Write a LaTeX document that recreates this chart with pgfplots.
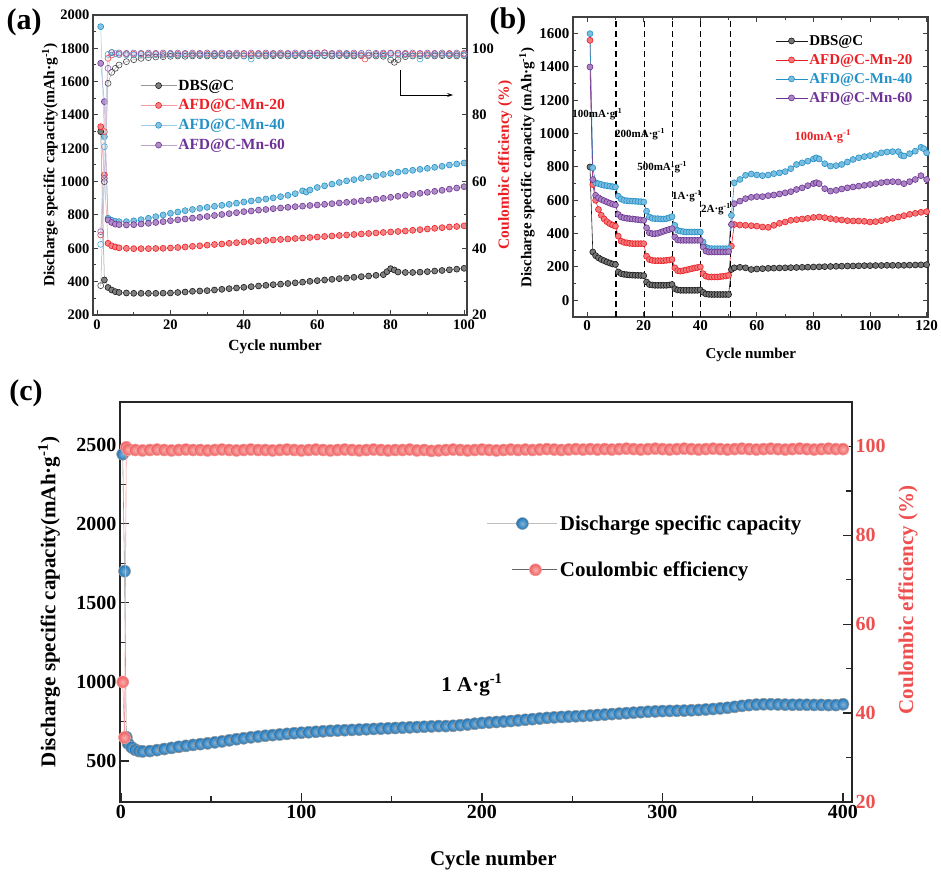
\documentclass[border=0pt]{standalone}
\usepackage{pgfplots}
\pgfplotsset{compat=1.18}
\usepackage{fontspec}
\setmainfont{Liberation Serif}
\usetikzlibrary{arrows.meta}
\definecolor{cblack}{RGB}{25,25,25}
\definecolor{cred}{RGB}{235,30,35}
\definecolor{cblue}{RGB}{35,145,200}
\definecolor{cpurple}{RGB}{110,50,150}
\definecolor{cbluec}{RGB}{30,118,185}
\definecolor{credc}{RGB}{240,95,95}
\definecolor{axred}{RGB}{238,80,80}
\newcommand{\fs}[1]{\fontsize{#1}{#1}\selectfont\bfseries}
\pgfdeclareplotmark{ballblue}{\shade[inner color=cbluec!55!white, outer color=cbluec] (0pt,0pt) circle (\pgfplotmarksize);}
\pgfdeclareplotmark{ballred}{\shade[inner color=credc!50!white, outer color=credc] (0pt,0pt) circle (\pgfplotmarksize);}
\pgfplotsset{
  common/.style={scale only axis, anchor=south west, tick align=inside,
    /pgf/number format/assume math mode=true, /pgf/number format/1000 sep={},
    scaled ticks=false},
  capa/.style={color=#1!45, line width=0.5pt, mark=*, mark size=3pt,
    mark options={draw=#1, fill=#1!55, line width=0.6pt}},
  cea/.style={color=#1!35, line width=0.5pt, mark=o, mark size=3pt,
    mark options={draw=#1!80, fill=white, line width=0.6pt}},
  capb/.style={color=#1, line width=0.6pt, mark=*, mark size=3pt,
    mark options={draw=#1, fill=#1!60, line width=0.6pt}},
  legC1/.style={legend image code/.code={\draw[black!25, line width=1pt] (0pt,0pt) -- (70pt,0pt); \draw[##1] plot coordinates {(35pt,0pt)};}},
  legC2/.style={legend image code/.code={\path (0pt,0pt); \draw[black!60, line width=1pt] (25pt,0pt) -- (70pt,0pt); \draw[##1] plot coordinates {(48pt,0pt)};}},
}
\begin{document}
\begin{tikzpicture}
\path[use as bounding box] (0,0) rectangle (941pt,877pt);

% ---------------- panel (a) ----------------
\begin{axis}[common, at={(93pt,562pt)}, width=374pt, height=300pt,
  xmin=-1.1, xmax=100.8, ymin=200, ymax=2000,
  xtick={0,20,...,100}, minor x tick num=1,
  ytick={200,400,...,2000}, minor y tick num=1,
  ytick pos=left, xtick pos=bottom,
  axis line style={line width=1.2pt, draw=black!75},
  major tick length=5pt, minor tick length=3pt,
  every tick/.style={line width=1pt, black!75},
  tick label style={font=\fs{14.5}},
  xticklabel style={yshift=-1.5pt},
  label style={font=\fs{15.5}},
  xlabel={Cycle number},
  ylabel={Discharge specific capacity(mAh·g\textsuperscript{-1})},
  xlabel style={at={(axis description cs:0.487,-0.107)}, anchor=center},
  ylabel style={at={(axis description cs:-0.115,0.5)}, anchor=center},
  legend style={draw=none, fill=none, at={(axis description cs:0.126,0.79)},
    anchor=north west, font=\fs{15.5}, row sep=5pt, inner sep=0pt, nodes={inner sep=1.5pt}},
  legend cell align=left,
  legend image code/.code={\draw[mark repeat=2,mark phase=2,#1] plot coordinates {(0pt,0pt) (18pt,0pt) (36pt,0pt)};},
]
\addplot[capa=cblack] coordinates {(1,1300)(2,410)(3,365)(4,350)(5,340)(6,335)(8,332)(10,330)(12,330)(14,330)(16,330)(18,331)(20,332)(22,335)(24,338)(26,342)(28,344)(30,346)(32,350)(34,354)(36,358)(38,362)(40,366)(42,370)(44,374)(46,378)(48,382)(50,385)(52,389)(54,393)(56,397)(58,402)(60,406)(62,410)(64,414)(66,418)(68,422)(70,426)(72,430)(74,434)(76,438)(78,442)(79,460)(80,478)(81,470)(82,458)(84,455)(86,455)(88,457)(90,460)(92,464)(94,467)(96,471)(98,475)(100,480)};
\addlegendentry{DBS@C}
\addplot[capa=cred] coordinates {(1,1330)(2,1040)(3,630)(4,615)(5,608)(6,603)(8,600)(10,598)(12,598)(14,598)(16,599)(18,600)(20,602)(22,605)(24,608)(26,612)(28,615)(30,619)(32,623)(34,626)(36,630)(38,634)(40,638)(42,641)(44,644)(46,647)(48,650)(50,653)(52,656)(54,659)(56,662)(58,665)(60,668)(62,671)(64,674)(66,677)(68,680)(70,683)(72,686)(74,689)(76,692)(78,695)(80,698)(82,701)(84,704)(86,708)(88,712)(90,716)(92,720)(94,724)(96,728)(98,731)(100,735)};
\addlegendentry{\textcolor{cred}{AFD@C-Mn-20}}
\addplot[capa=cblue] coordinates {(1,1930)(2,1270)(3,780)(4,768)(5,762)(6,760)(8,760)(10,765)(12,772)(14,780)(16,790)(18,800)(20,810)(22,818)(24,826)(26,833)(28,840)(30,846)(32,852)(34,858)(36,864)(38,871)(40,878)(42,884)(44,890)(46,896)(48,903)(50,910)(52,918)(54,928)(56,945)(57,938)(58,950)(60,965)(62,975)(64,985)(66,995)(68,1005)(70,1012)(72,1020)(74,1028)(76,1035)(78,1043)(80,1050)(82,1057)(84,1063)(86,1068)(88,1074)(90,1080)(92,1086)(94,1092)(96,1100)(98,1106)(100,1112)};
\addlegendentry{\textcolor{cblue}{AFD@C-Mn-40}}
\addplot[capa=cpurple] coordinates {(1,1710)(2,1480)(3,770)(4,755)(5,745)(6,742)(8,740)(10,742)(12,746)(14,750)(16,755)(18,760)(20,766)(22,771)(24,776)(26,781)(28,786)(30,791)(32,797)(34,803)(36,808)(38,814)(40,820)(42,824)(44,829)(46,833)(48,838)(50,842)(52,846)(54,850)(56,853)(58,857)(60,860)(62,864)(64,868)(66,872)(68,876)(70,880)(72,885)(74,890)(76,895)(78,900)(80,906)(82,912)(84,918)(86,924)(88,930)(90,936)(92,942)(94,948)(96,955)(98,962)(100,970)};
\addlegendentry{\textcolor{cpurple}{AFD@C-Mn-60}}
\draw[line width=0.9pt, -{Stealth[length=6pt,width=4pt]}] (axis cs:82.6,1670) -- (axis cs:82.6,1520) -- (axis cs:97,1520);
\end{axis}

\begin{axis}[common, at={(93pt,562pt)}, width=374pt, height=300pt,
  xmin=-1.1, xmax=100.8, ymin=20, ymax=110,
  axis x line=none, axis y line*=right,
  ytick={20,40,...,100}, minor y tick num=1,
  axis line style={line width=1.2pt, draw=black!75},
  major tick length=5pt, minor tick length=3pt,
  every tick/.style={line width=1pt, black!75},
  tick label style={font=\fs{14.5}},
  yticklabel style={xshift=1.5pt},
  ylabel={Coulombic efficiency (\%)},
  ylabel style={font=\fs{15.5}, color=cred, at={(axis description cs:1.102,0.5)}, anchor=center},
]
\addplot[cea=cblack] coordinates {(1,28.8)(2,60)(3,89.5)(4,92.8)(5,94)(6,95)(8,96)(10,96.6)(12,97)(14,97.2)(16,97.4)(18,97.5)(20,97.6)(22,97.7)(24,97.6)(26,97.7)(28,97.8)(30,97.7)(32,97.7)(34,97.8)(36,97.7)(38,97.8)(40,97.7)(42,97.8)(44,97.8)(46,97.7)(48,97.8)(50,97.8)(52,97.7)(54,97.8)(56,97.8)(58,97.7)(60,97.8)(62,97.8)(64,97.7)(66,97.8)(68,97.8)(70,97.7)(72,97.8)(74,97.8)(76,97.7)(78,97.6)(80,96.5)(81,95.8)(82,96.6)(84,97.5)(86,97.7)(88,97.8)(90,97.8)(92,97.7)(94,97.8)(96,97.8)(98,97.7)(100,97.8)};
\addplot[cea=cred] coordinates {(1,44)(2,75)(3,97)(4,98)(6,98.2)(8,98.3)(10,98.2)(12,98.3)(14,98.2)(16,98.3)(18,98.2)(20,98.3)(22,98.2)(24,98.3)(26,98.2)(28,98.3)(30,98.2)(32,98.3)(34,98.2)(36,98.3)(38,98.2)(40,98.3)(42,98.2)(44,98.3)(46,98.2)(48,98.3)(50,98.2)(52,98.3)(54,98.2)(56,98.3)(58,98.4)(60,98.6)(62,98.7)(64,98.3)(66,98.2)(68,98.3)(70,98.2)(72,97.8)(73,96.8)(74,97.9)(76,98.2)(78,98.3)(80,98.6)(82,98.4)(84,98.3)(86,98.2)(88,98.3)(90,98.2)(92,98.3)(94,98.2)(96,98.3)(98,98.2)(100,98.3)};
\addplot[cea=cblue] coordinates {(1,41.2)(2,70.5)(3,98.2)(4,98.8)(5,98.4)(6,98.1)(8,98)(10,98)(12,98.1)(14,98)(16,98.1)(18,98)(20,98.1)(22,98)(24,98.1)(26,98)(28,98.1)(30,98)(32,98.1)(34,98)(36,98.1)(38,98)(40,97.8)(42,96.8)(44,97.9)(46,98)(48,98.1)(50,98)(52,98.1)(54,98)(56,98.1)(58,98)(60,98.1)(62,98)(64,98.1)(66,98)(68,98.1)(70,98)(72,98.1)(74,98)(76,98.1)(78,98)(80,98.1)(82,98)(84,98.1)(86,97.8)(88,96.8)(90,97.9)(92,98)(94,98.1)(96,98)(98,98.1)(100,98)};
\addplot[cea=cpurple] coordinates {(1,45)(2,61)(3,94)(4,98.7)(6,98.6)(8,98.5)(10,98.6)(12,98.5)(14,98.6)(16,98.5)(18,98.6)(20,98.5)(22,98.6)(24,98.5)(26,98.6)(28,98.5)(30,98.6)(32,98.5)(34,98.6)(36,98.5)(38,98.6)(40,98.5)(42,98.6)(44,98.5)(46,98.6)(48,98.5)(50,98.6)(52,98.5)(54,98.6)(56,98.5)(58,98.6)(60,98.5)(62,98.6)(64,98.5)(66,98.6)(68,98.5)(70,98.6)(72,98.5)(74,98.6)(76,98.5)(78,98.6)(80,98.5)(82,98.6)(84,98.5)(86,98.6)(88,98.5)(90,98.6)(92,98.5)(94,98.6)(96,98.5)(98,98.6)(100,98.5)};
\end{axis}

% ---------------- panel (b) ----------------
\begin{axis}[common, at={(573pt,560pt)}, width=355pt, height=300pt,
  xmin=-5, xmax=120.5, ymin=-100, ymax=1700,
  xtick={0,20,...,120}, minor x tick num=1,
  ytick={0,200,...,1600}, minor y tick num=1,
  axis line style={line width=1.2pt, draw=black!75},
  major tick length=5pt, minor tick length=3pt,
  every tick/.style={line width=1pt, black!75},
  tick label style={font=\fs{15}},
  label style={font=\fs{15}},
  xlabel={Cycle number},
  ylabel={Discharge specific capacity (mAh·g\textsuperscript{-1})},
  xlabel style={at={(axis description cs:0.501,-0.127)}, anchor=center},
  ylabel style={at={(axis description cs:-0.13,0.498)}, anchor=center},
  legend style={draw=none, fill=none, at={(axis description cs:0.569,0.945)},
    anchor=north west, font=\fs{15}, row sep=4.5pt, inner sep=0pt, nodes={inner sep=1.5pt}},
  legend cell align=left,
  legend image code/.code={\draw[mark repeat=2,mark phase=2,#1] plot coordinates {(0pt,0pt) (16pt,0pt) (32pt,0pt)};},
]
\addplot[capb=cblack] coordinates {(1,800)(2,290)(3,268)(4,255)(5,245)(6,238)(7,230)(8,224)(9,218)(10,215)(11,170)(12,160)(13,156)(14,154)(15,152)(16,151)(17,150)(18,150)(19,149)(20,148)(21,110)(22,95)(23,92)(24,90)(25,90)(26,90)(27,90)(28,90)(29,92)(30,95)(31,70)(32,62)(33,60)(34,60)(35,60)(36,60)(37,60)(38,60)(39,60)(40,62)(41,48)(42,38)(43,36)(44,35)(45,35)(46,35)(47,35)(48,35)(49,35)(50,35)(51,185)(52,195)(54,198)(56,195)(58,185)(60,188)(62,190)(64,192)(66,193)(68,194)(70,195)(72,196)(74,197)(76,198)(78,199)(80,200)(82,201)(84,202)(86,203)(88,204)(90,205)(92,206)(94,206)(96,207)(98,208)(100,208)(102,209)(104,209)(106,210)(108,210)(110,210)(112,210)(114,211)(116,212)(118,213)(120,214)};
\addlegendentry{DBS@C}
\addplot[capb=cred] coordinates {(1,1560)(2,694)(3,600)(4,545)(5,510)(6,488)(7,472)(8,460)(9,452)(10,445)(11,385)(12,355)(13,348)(14,345)(15,342)(16,340)(17,340)(18,340)(19,340)(20,340)(21,265)(22,245)(23,240)(24,238)(25,238)(26,238)(27,238)(28,240)(29,242)(30,245)(31,195)(32,178)(33,175)(34,178)(35,182)(36,186)(37,190)(38,194)(39,197)(40,200)(41,160)(42,145)(43,140)(44,140)(45,140)(46,140)(47,142)(48,144)(49,146)(50,150)(51,325)(52,455)(54,452)(56,450)(58,448)(60,445)(62,440)(64,438)(66,450)(68,462)(70,470)(72,480)(74,484)(76,488)(78,492)(80,497)(82,500)(84,496)(86,490)(88,485)(90,482)(92,478)(94,476)(96,476)(98,474)(100,470)(102,472)(104,478)(106,485)(108,492)(110,500)(112,508)(114,516)(116,522)(118,528)(120,532)};
\addlegendentry{\textcolor{cred}{AFD@C-Mn-20}}
\addplot[capb=cblue] coordinates {(1,1600)(2,795)(3,705)(4,700)(5,695)(6,690)(7,688)(8,685)(9,682)(10,680)(11,625)(12,608)(13,600)(14,598)(15,596)(16,595)(17,594)(18,593)(19,592)(20,590)(21,535)(22,500)(23,492)(24,490)(25,490)(26,488)(27,488)(28,490)(29,495)(30,502)(31,450)(32,420)(33,415)(34,412)(35,410)(36,410)(37,410)(38,410)(39,410)(40,410)(41,350)(42,318)(43,312)(44,310)(45,310)(46,310)(47,310)(48,310)(49,310)(50,310)(51,510)(52,705)(54,725)(56,750)(58,758)(60,752)(62,748)(64,752)(66,760)(68,765)(70,772)(72,790)(74,815)(76,825)(78,835)(80,848)(81,855)(82,848)(84,820)(86,805)(88,808)(90,815)(92,830)(94,845)(96,855)(98,862)(100,868)(102,875)(104,885)(106,890)(108,892)(110,892)(111,870)(112,866)(114,880)(116,895)(118,918)(119,910)(120,885)};
\addlegendentry{\textcolor{cblue}{AFD@C-Mn-40}}
\addplot[capb=cpurple] coordinates {(1,1400)(2,725)(3,630)(4,615)(5,605)(6,598)(7,590)(8,583)(9,577)(10,572)(11,515)(12,500)(13,495)(14,492)(15,490)(16,488)(17,486)(18,484)(19,482)(20,480)(21,435)(22,405)(23,400)(24,400)(25,402)(26,408)(27,414)(28,420)(29,425)(30,430)(31,380)(32,362)(33,360)(34,360)(35,360)(36,360)(37,360)(38,360)(39,360)(40,360)(41,320)(42,295)(43,290)(44,290)(45,290)(46,290)(47,290)(48,290)(49,290)(50,292)(51,455)(52,580)(54,595)(56,610)(58,618)(60,622)(62,622)(64,628)(66,632)(68,638)(70,645)(72,652)(74,665)(76,675)(78,688)(80,700)(81,706)(82,700)(84,670)(86,655)(88,660)(90,668)(92,675)(94,680)(96,685)(98,690)(100,695)(102,700)(104,706)(106,710)(108,712)(110,710)(112,700)(114,712)(116,725)(118,748)(120,725)};
\addlegendentry{\textcolor{cpurple}{AFD@C-Mn-60}}
\draw[line width=1.1pt, dash pattern=on 6pt off 4pt] (axis cs:10.2,-100) -- (axis cs:10.2,1700);
\draw[line width=1.1pt, dash pattern=on 6pt off 4pt] (axis cs:20.2,-100) -- (axis cs:20.2,1700);
\draw[line width=1.1pt, dash pattern=on 6pt off 4pt] (axis cs:30.1,-100) -- (axis cs:30.1,1700);
\draw[line width=1.1pt, dash pattern=on 6pt off 4pt] (axis cs:40.1,-100) -- (axis cs:40.1,1700);
\draw[line width=1.1pt, dash pattern=on 6pt off 4pt] (axis cs:50.7,-100) -- (axis cs:50.7,1700);
\node[font=\fs{11}] at (axis cs:3.6,1115) {100mA·g\textsuperscript{-1}};
\node[font=\fs{11}] at (axis cs:18.7,994) {200mA·g\textsuperscript{-1}};
\node[font=\fs{11}] at (axis cs:26.5,796) {500mA·g\textsuperscript{-1}};
\node[font=\fs{11}] at (axis cs:35.3,622) {1A·g\textsuperscript{-1}};
\node[font=\fs{11}] at (axis cs:45.5,544) {2A·g\textsuperscript{-1}};
\node[font=\fs{12.5}, text=cred] at (axis cs:83.3,982) {100mA·g\textsuperscript{-1}};
\end{axis}

% ---------------- panel (c) ----------------
\begin{axis}[common, at={(120pt,75pt)}, width=732pt, height=400pt,
  xmin=-0.5, xmax=405, ymin=240, ymax=2770,
  xtick={0,100,...,400}, minor x tick num=1,
  ytick={500,1000,...,2500}, minor y tick num=1,
  ytick pos=left, xtick pos=bottom,
  axis line style={line width=1.6pt, draw=black!85},
  major tick length=9pt, minor tick length=6pt,
  every tick/.style={line width=1.4pt, black!85},
  tick label style={font=\fs{20}},
  label style={font=\fs{21}},
  xlabel={Cycle number},
  ylabel={Discharge specific capacity(mAh·g\textsuperscript{-1})},
  xlabel style={at={(axis description cs:0.51,-0.145)}, anchor=center},
  ylabel style={at={(axis description cs:-0.097,0.5)}, anchor=center},
]
\addplot[color=black!40, line width=0.6pt, mark=ballblue, mark size=6pt] coordinates {(1,2440)(2,1700)(3,650)(4,610)(6,585)(8,570)(10,562)(12,560)(16,562)(20,568)(24,575)(28,582)(32,589)(36,595)(40,601)(44,606)(48,611)(52,617)(56,623)(60,630)(64,637)(68,643)(72,649)(76,654)(80,659)(84,663)(88,667)(92,671)(96,675)(100,678)(104,681)(108,684)(112,687)(116,690)(120,692)(124,694)(128,696)(132,698)(136,700)(140,702)(144,704)(148,706)(152,708)(156,710)(160,712)(164,714)(168,716)(172,718)(176,720)(180,720)(184,722)(188,726)(192,730)(196,735)(200,740)(204,743)(208,746)(212,749)(216,752)(220,756)(224,760)(228,764)(232,768)(236,772)(240,775)(244,778)(248,780)(252,782)(256,784)(260,787)(264,790)(268,793)(272,796)(276,799)(280,802)(284,805)(288,808)(292,811)(296,813)(300,815)(304,816)(308,817)(312,818)(316,820)(320,822)(324,825)(328,828)(332,832)(336,836)(340,842)(344,848)(348,853)(352,856)(356,858)(360,858)(364,857)(368,856)(372,855)(376,855)(380,855)(384,854)(388,854)(392,853)(396,853)(400,858)};
\node[font=\fs{21}] at (axis cs:194.5,981) {1 A·g\textsuperscript{-1}};
\end{axis}

\begin{axis}[common, at={(120pt,75pt)}, width=732pt, height=400pt,
  xmin=-0.5, xmax=405, ymin=20, ymax=110,
  axis x line=none, axis y line*=right,
  ytick={20,40,...,100}, minor y tick num=1,
  axis line style={line width=1.6pt, draw=black!85},
  major tick length=9pt, minor tick length=6pt,
  every tick/.style={line width=1.4pt, black!85},
  tick label style={font=\fs{20}, text=axred},
  ylabel={Coulombic efficiency (\%)},
  ylabel style={font=\fs{21}, color=axred, at={(axis description cs:1.0765,0.505)}, anchor=center},
  legend style={draw=none, fill=none, at={(axis description cs:0.501,0.722)},
    anchor=north west, font=\fs{21}, row sep=26pt, inner sep=0pt, nodes={inner sep=2pt}},
  legend cell align=left,
]
\addlegendimage{color=black!40, mark=ballblue, mark size=6pt, legC1}
\addlegendentry{Discharge specific capacity}
\addplot[color=credc!60, line width=0.6pt, mark=ballred, mark size=6pt, legC2] coordinates {(1,47)(2,34.5)(3,99.8)(4,99.3)(8,99.2)(12,99.1)(16,99.2)(20,99.3)(24,99.2)(28,99.1)(32,99.2)(36,99.3)(40,99.2)(44,99.2)(48,99.1)(52,99.2)(56,99.3)(60,99.2)(64,99.1)(68,99.2)(72,99.3)(76,99.2)(80,99.2)(84,99.1)(88,99.2)(92,99.3)(96,99.2)(100,99.1)(104,99.2)(108,99.3)(112,99.2)(116,99.1)(120,99.2)(124,99.3)(128,99.2)(132,99.1)(136,99.2)(140,99.3)(144,99.2)(148,99.1)(152,99.2)(156,99.2)(160,99.3)(164,99.1)(168,99.2)(172,99.0)(176,99.1)(180,99.2)(184,99.3)(188,99.2)(192,99.1)(196,99.2)(200,99.3)(204,99.2)(208,99.1)(212,99.2)(216,99.3)(220,99.2)(224,99.3)(228,99.2)(232,99.3)(236,99.4)(240,99.3)(244,99.2)(248,99.3)(252,99.4)(256,99.3)(260,99.4)(264,99.3)(268,99.4)(272,99.3)(276,99.4)(280,99.5)(284,99.4)(288,99.3)(292,99.4)(296,99.5)(300,99.4)(304,99.3)(308,99.4)(312,99.5)(316,99.4)(320,99.3)(324,99.4)(328,99.5)(332,99.4)(336,99.3)(340,99.4)(344,99.5)(348,99.4)(352,99.3)(356,99.4)(360,99.5)(364,99.4)(368,99.3)(372,99.4)(376,99.5)(380,99.4)(384,99.3)(388,99.4)(392,99.5)(396,99.4)(400,99.4)};
\addlegendentry{Coulombic efficiency}
\end{axis}

\node[font=\fs{30}] at (24pt,855pt) {(a)};
\node[font=\fs{30}] at (508pt,856pt) {(b)};
\node[font=\fs{30}] at (26pt,484pt) {(c)};
\end{tikzpicture}
\end{document}
